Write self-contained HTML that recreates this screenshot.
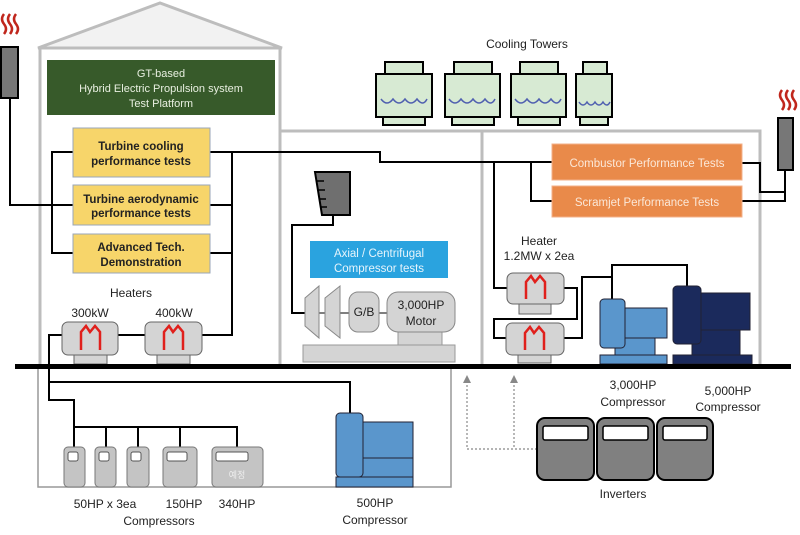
<!DOCTYPE html>
<html><head><meta charset="utf-8"><style>
html,body{margin:0;padding:0;background:#fff;}
svg{display:block;font-family:"Liberation Sans","Noto Sans CJK KR",sans-serif;}
</style></head><body>
<svg width="800" height="535" viewBox="0 0 800 535" xmlns="http://www.w3.org/2000/svg">
<!-- building left -->
<polygon points="38,48 160,3 282,48" fill="#f2f2f2" stroke="#bdbdbd" stroke-width="3"/>
<polyline points="40,366 40,48 280,48 280,366" fill="none" stroke="#bdbdbd" stroke-width="3"/>
<polyline points="280,131 760,131 760,366" fill="none" stroke="#bdbdbd" stroke-width="3"/>
<line x1="482" y1="131" x2="482" y2="366" stroke="#bdbdbd" stroke-width="3"/>
<!-- green -->
<rect x="47" y="60" width="228" height="55" fill="#375a2a"/>
<g fill="#e8efe0" font-size="11" text-anchor="middle">
<text x="161" y="77">GT-based</text>
<text x="161" y="92">Hybrid Electric Propulsion system</text>
<text x="161" y="107">Test Platform</text>
</g>
<!-- wires -->
<g fill="none" stroke="#000" stroke-width="2">
<polyline points="10,98 10,205 73,205"/>
<polyline points="73,152 52,152 52,253 73,253"/>
<polyline points="210,152 380,152 380,162 552,162"/>
<polyline points="210,205 232,205"/>
<polyline points="210,253 232,253"/>
<polyline points="232,152 232,335 202,335"/>
<line x1="118" y1="335" x2="145" y2="335"/>
<polyline points="62,335 49,335 49,400 74,400 74,447"/>
<polyline points="49,366 49,382 350,382 350,413"/>
<polyline points="74,427 237,427 237,447"/>
<line x1="106" y1="427" x2="106" y2="447"/>
<line x1="138" y1="427" x2="138" y2="447"/>
<line x1="180" y1="427" x2="180" y2="447"/>
<polyline points="531,162 531,201 552,201"/>
<polyline points="494,162 494,288 507,288"/>
<polyline points="564,288 577,288 577,319 494,319 494,338 506,338"/>
<polyline points="564,338 582,338 582,277 612,277"/>
<polyline points="612,300 612,265 687,265 687,286"/>
<polyline points="742,163 760,163 760,192 785,192 785,170"/>
<polyline points="742,201 785,201 785,192"/>
<polyline points="333,215 333,225 292,225 292,313 305,313"/>
</g>
<!-- yellow boxes -->
<g fill="#f7d56a" stroke="#9aa6b8" stroke-width="1">
<rect x="73" y="128" width="137" height="49"/>
<rect x="73" y="185" width="137" height="40"/>
<rect x="73" y="234" width="137" height="39"/>
</g>
<g font-size="11.5" font-weight="bold" text-anchor="middle" fill="#222">
<text x="141" y="150">Turbine cooling</text>
<text x="141" y="165">performance tests</text>
<text x="141" y="203">Turbine aerodynamic</text>
<text x="141" y="217">performance tests</text>
<text x="141" y="251">Advanced Tech.</text>
<text x="141" y="266">Demonstration</text>
</g>
<!-- stacks -->
<rect x="1" y="47" width="17" height="51" fill="#777" stroke="#000" stroke-width="2"/>
<g fill="none" stroke="#c0261c" stroke-width="2.5">
<path d="M4,14 q-4,5 0,10 q4,5 0,10"/><path d="M10,14 q-4,5 0,10 q4,5 0,10"/><path d="M16,14 q-4,5 0,10 q4,5 0,10"/>
<path d="M782,90 q-4,5 0,10 q4,5 0,10"/><path d="M788,90 q-4,5 0,10 q4,5 0,10"/><path d="M794,90 q-4,5 0,10 q4,5 0,10"/>
</g>
<rect x="778" y="118" width="15" height="52" fill="#777" stroke="#000" stroke-width="2"/>
<!-- heaters text -->
<g font-size="12" text-anchor="middle" fill="#222">
<text x="131" y="297">Heaters</text>
<text x="90" y="317">300kW</text>
<text x="174" y="317">400kW</text>
<text x="539" y="245">Heater</text>
<text x="539" y="260">1.2MW x 2ea</text>
<text x="527" y="48">Cooling Towers</text>
</g>
<!-- heater shapes -->
<g fill="#d4d4d4" stroke="#666" stroke-width="1">
<rect x="74" y="355" width="33" height="9"/><rect x="157" y="355" width="33" height="9"/>
<rect x="62" y="322" width="56" height="33" rx="6"/><rect x="145" y="322" width="57" height="33" rx="6"/>
<rect x="519" y="304" width="32" height="10"/><rect x="518" y="355" width="33" height="8"/>
<rect x="507" y="273" width="57" height="31" rx="6"/><rect x="506" y="323" width="58" height="32" rx="6"/>
</g>
<g fill="none" stroke="#e0201c" stroke-width="2.5">
<path d="M81,350 V332 L86,326 L90,332 L95,326 L100,332 V350"/>
<path d="M164,350 V332 L169,326 L173,332 L178,326 L183,332 V350"/>
<path d="M526,299 V282 L531,276 L535,282 L540,276 L545,282 V299"/>
<path d="M525,350 V333 L530,327 L534,333 L539,327 L544,333 V350"/>
</g>
<!-- cooling towers -->
<g stroke="#000" stroke-width="2" fill="#d7ead3">
<rect x="385" y="62" width="38" height="12"/><rect x="376" y="74" width="56" height="43"/><rect x="383" y="117" width="42" height="8"/>
<rect x="454" y="62" width="38" height="12"/><rect x="445" y="74" width="55" height="43"/><rect x="452" y="117" width="42" height="8"/>
<rect x="520" y="62" width="38" height="12"/><rect x="511" y="74" width="55" height="43"/><rect x="518" y="117" width="42" height="8"/>
<rect x="583" y="62" width="24" height="12"/><rect x="576" y="74" width="36" height="43"/><rect x="580" y="117" width="28" height="8"/>
</g>
<g fill="none" stroke="#5060b0" stroke-width="1.5">
<path d="M381,99 q6,8 12,0 q6,8 12,0 q6,8 12,0 q6,8 10,0"/>
<path d="M449,99 q6,8 12,0 q6,8 12,0 q6,8 12,0 q6,8 10,0"/>
<path d="M515,99 q6,8 12,0 q6,8 12,0 q6,8 12,0 q6,8 10,0"/>
<path d="M579,102 q4,6 8,0 q4,6 8,0 q4,6 8,0 q4,6 7,0"/>
</g>
<!-- orange -->
<rect x="552" y="144" width="190" height="36" fill="#e98a4a" stroke="#f3b08a"/>
<rect x="552" y="186" width="190" height="31" fill="#e98a4a" stroke="#f3b08a"/>
<g fill="#fbe8d8" font-size="11.5" text-anchor="middle">
<text x="647" y="167">Combustor Performance Tests</text>
<text x="647" y="206">Scramjet Performance Tests</text>
</g>
<!-- funnel -->
<polygon points="315,172 350,172 350,215 322,215" fill="#6f6f6f" stroke="#000" stroke-width="2"/>
<g stroke="#000" stroke-width="1.5"><line x1="317" y1="181" x2="324" y2="181"/><line x1="318" y1="190" x2="325" y2="190"/><line x1="319" y1="199" x2="326" y2="199"/><line x1="320" y1="207" x2="327" y2="207"/></g>
<!-- blue box -->
<rect x="310" y="241" width="138" height="37" fill="#2aa3df"/>
<g fill="#e6f4fc" font-size="11.5" text-anchor="middle"><text x="379" y="257">Axial / Centrifugal</text><text x="379" y="272">Compressor tests</text></g>
<!-- compressor motor -->
<rect x="303" y="345" width="152" height="17" fill="#d4d4d4" stroke="#999"/>
<rect x="398" y="332" width="44" height="13" fill="#d4d4d4" stroke="#999"/>
<line x1="305" y1="313" x2="390" y2="313" stroke="#555" stroke-width="1.5"/>
<polygon points="305,298 319,286 319,338 305,326" fill="#d4d4d4" stroke="#888"/>
<polygon points="325,298 340,286 340,338 325,326" fill="#d4d4d4" stroke="#888"/>
<rect x="349" y="292" width="30" height="40" rx="9" fill="#d4d4d4" stroke="#888"/>
<rect x="387" y="292" width="68" height="40" rx="11" fill="#d4d4d4" stroke="#888"/>
<g font-size="12" text-anchor="middle" fill="#222"><text x="364" y="316">G/B</text><text x="421" y="309">3,000HP</text><text x="421" y="325">Motor</text></g>
<!-- big compressors -->
<g stroke="#223" stroke-width="1">
<rect x="600" y="355" width="67" height="9" fill="#5a96cc"/><rect x="615" y="338" width="40" height="17" fill="#5a96cc"/>
<rect x="625" y="308" width="42" height="30" fill="#5a96cc"/><rect x="600" y="299" width="25" height="49" rx="4" fill="#5a96cc"/>
<rect x="673" y="355" width="79" height="9" fill="#1b2a5c"/><rect x="692" y="330" width="48" height="25" fill="#1b2a5c"/>
<rect x="699" y="293" width="51" height="37" fill="#1b2a5c"/><rect x="673" y="286" width="28" height="58" rx="4" fill="#1b2a5c"/>
</g>
<!-- ground line -->
<rect x="15" y="364" width="776" height="5" fill="#000"/>
<!-- basement -->
<polyline points="38,369 38,487 451,487 451,369" fill="none" stroke="#999" stroke-width="1.5"/>
<g fill="#c4c4c4" stroke="#777" stroke-width="1">
<rect x="64" y="447" width="21" height="40" rx="4"/><rect x="95" y="447" width="21" height="40" rx="4"/><rect x="127" y="447" width="22" height="40" rx="4"/>
<rect x="163" y="447" width="34" height="40" rx="4"/><rect x="212" y="447" width="51" height="40" rx="4"/>
</g>
<g fill="#fff" stroke="#555" stroke-width="1">
<rect x="68" y="452" width="10" height="9" rx="2"/><rect x="99" y="452" width="10" height="9" rx="2"/><rect x="131" y="452" width="10" height="9" rx="2"/>
<rect x="167" y="452" width="20" height="9" rx="2"/><rect x="216" y="452" width="32" height="9" rx="2"/>
</g>
<text x="237" y="478" font-size="9" fill="#eee" text-anchor="middle">예정</text>
<g stroke="#223" stroke-width="1" fill="#5a96cc">
<rect x="336" y="477" width="77" height="10"/><rect x="354" y="458" width="59" height="19"/>
<rect x="363" y="422" width="50" height="36"/><rect x="336" y="413" width="27" height="64" rx="4"/>
</g>
<!-- inverters -->
<g fill="none" stroke="#888" stroke-width="1.2" stroke-dasharray="2,2">
<polyline points="467,381 467,449 537,449"/><line x1="514" y1="381" x2="514" y2="449"/>
</g>
<g fill="#888"><polygon points="463,383 467,375 471,383"/><polygon points="510,383 514,375 518,383"/></g>
<g fill="#808080" stroke="#000" stroke-width="2">
<rect x="537" y="418" width="57" height="62" rx="8"/><rect x="597" y="418" width="57" height="62" rx="8"/><rect x="657" y="418" width="56" height="62" rx="8"/>
</g>
<g fill="#fff" stroke="#000" stroke-width="1.5">
<rect x="543" y="426" width="45" height="14" rx="2"/><rect x="603" y="426" width="45" height="14" rx="2"/><rect x="663" y="426" width="44" height="14" rx="2"/>
</g>
<g font-size="12" text-anchor="middle" fill="#222">
<text x="105" y="508">50HP x 3ea</text><text x="184" y="508">150HP</text><text x="237" y="508">340HP</text>
<text x="159" y="525">Compressors</text>
<text x="375" y="507">500HP</text><text x="375" y="524">Compressor</text>
<text x="623" y="498">Inverters</text>
<text x="633" y="389">3,000HP</text><text x="633" y="406">Compressor</text>
<text x="728" y="395">5,000HP</text><text x="728" y="411">Compressor</text>
</g>
</svg>
</body></html>
